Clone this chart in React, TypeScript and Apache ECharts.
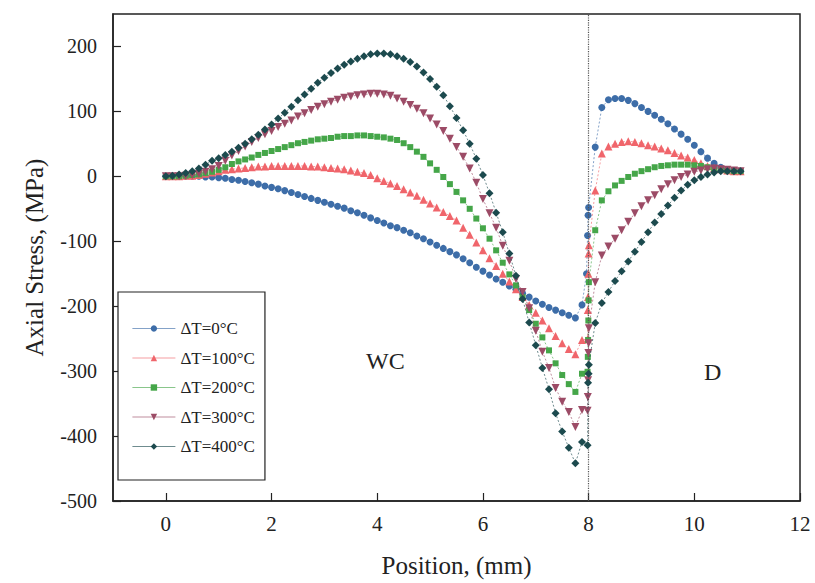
import React, { useEffect, useRef } from "react";
import * as echarts from "echarts";

const FONT = '"Liberation Serif", "Times New Roman", serif';

// x positions (mm) in WC region and D region
const xWC = [0, 0.125, 0.25, 0.375, 0.5, 0.625, 0.75, 0.875, 1, 1.125, 1.25, 1.375, 1.5, 1.625, 1.75, 1.875, 2, 2.125, 2.25, 2.375, 2.5, 2.625, 2.75, 2.875, 3, 3.125, 3.25, 3.375, 3.5, 3.625, 3.75, 3.875, 4, 4.125, 4.25, 4.375, 4.5, 4.625, 4.75, 4.875, 5, 5.125, 5.25, 5.375, 5.5, 5.625, 5.75, 5.875, 6, 6.125, 6.25, 6.375, 6.5, 6.625, 6.75, 6.875, 7, 7.125, 7.25, 7.375, 7.5, 7.625, 7.75, 7.875];
const xD = [8.125, 8.25, 8.375, 8.5, 8.625, 8.75, 8.875, 9, 9.125, 9.25, 9.375, 9.5, 9.625, 9.75, 9.875, 10, 10.125, 10.25, 10.375, 10.5, 10.625, 10.75, 10.875];

const xTicks = [0, 2, 4, 6, 8, 10, 12];
const yTicks = [-500, -400, -300, -200, -100, 0, 100, 200];

const names = ["ΔT=0°C", "ΔT=100°C", "ΔT=200°C", "ΔT=300°C", "ΔT=400°C"];

// ΔT = 0
const wc0 = [0, 0, 0, 0, 0, 0, -1, -1, -2, -3, -5, -6, -8, -10, -12, -15, -17, -19, -22, -25, -28, -31, -34, -37, -40, -43, -46, -49, -53, -56, -60, -64, -68, -72, -76, -79, -83, -87, -92, -96, -101, -106, -111, -116, -121, -127, -133, -140, -146, -152, -158, -163, -169, -174, -180, -186, -192, -197, -202, -206, -210, -214, -218, -198];
const if0x = [7.96, 7.98, 7.99, 8.0];
const if0y = [-150, -91, -60, -48];
const d0 = [45, 106, 118, 120, 120, 117, 112, 106, 100, 94, 88, 81, 73, 65, 57, 48, 38, 28, 20, 14, 10, 8, 8];

// ΔT = 100
const wc1 = [0, 0, 0, 1, 1, 2, 4, 6, 8, 10, 11, 12, 13, 14, 15, 15, 16, 16, 16, 16, 16, 16, 15, 15, 14, 13, 12, 11, 9, 7, 5, 2, -3, -7, -11, -15, -20, -25, -30, -36, -42, -48, -55, -61, -68, -79, -90, -102, -114, -126, -138, -150, -162, -174, -186, -198, -210, -222, -234, -246, -257, -266, -274, -252];
const if1x = [7.98, 7.985, 7.99, 7.995, 8.0, 8.005];
const if1y = [-251, -206, -186, -150, -119, -106];
const d1 = [-22, 35, 46, 50, 53, 54, 53, 51, 48, 46, 43, 40, 36, 32, 29, 25, 20, 16, 13, 11, 9, 8, 8];

// ΔT = 200
const wc2 = [0, 0, 0, 1, 2, 3, 5, 7, 10, 14, 19, 23, 26, 29, 33, 36, 39, 42, 45, 48, 51, 53, 55, 57, 58, 59, 61, 62, 62, 63, 63, 62, 61, 60, 58, 56, 51, 45, 38, 30, 20, 10, -1, -12, -24, -37, -50, -65, -80, -96, -114, -133, -151, -168, -186, -206, -227, -248, -268, -288, -306, -320, -332, -304];
const if2x = [7.98, 7.985, 7.99, 7.995, 8.0, 8.005];
const if2y = [-301, -278, -252, -222, -191, -163];
const d2 = [-83, -37, -23, -14, -7, -1, 4, 8, 11, 14, 16, 17, 18, 18, 18, 17, 16, 14, 12, 10, 9, 8, 8];

// ΔT = 300
const wc3 = [0, 0, 0, 1, 2, 4, 7, 11, 16, 24, 32, 39, 46, 53, 59, 65, 70, 76, 81, 86, 92, 97, 102, 107, 111, 115, 118, 121, 123, 125, 126, 127, 127, 126, 124, 120, 115, 110, 104, 97, 89, 80, 70, 58, 45, 30, 12, -10, -35, -57, -79, -107, -130, -158, -178, -203, -238, -270, -295, -326, -347, -363, -386, -360];
const if3x = [7.98, 7.985, 7.99, 7.995, 8.0, 8.005];
const if3y = [-361, -340, -314, -272, -257, -234];
const d3 = [-163, -122, -108, -96, -83, -70, -57, -46, -37, -29, -20, -12, -6, -1, 3, 7, 9, 11, 12, 11, 10, 9, 8];

// ΔT = 400
const wc4 = [0, 1, 3, 5, 8, 12, 18, 24, 28, 33, 38, 44, 50, 57, 64, 72, 80, 89, 98, 107, 117, 126, 135, 144, 152, 159, 166, 172, 177, 181, 185, 188, 189, 189, 188, 185, 181, 176, 169, 160, 150, 138, 125, 108, 90, 71, 50, 27, 2, -26, -56, -86, -119, -153, -189, -225, -260, -295, -328, -365, -393, -418, -442, -409];
const if4x = [7.98, 7.99, 8.0, 8.005];
const if4y = [-414, -318, -304, -290];
const d4 = [-226, -195, -178, -161, -146, -131, -116, -101, -86, -71, -58, -45, -33, -22, -13, -6, -1, 3, 6, 8, 8, 8, 8];

const colors = ["#3d6da8", "#f0656b", "#45a649", "#9c4b66", "#1c4a4e"];

function build(yWC: number[], ifx: number[], ify: number[], yD: number[]) {
  const pts: number[][] = [];
  xWC.forEach((x, i) => pts.push([x, yWC[i]]));
  ifx.forEach((x, i) => pts.push([x, ify[i]]));
  xD.forEach((x, i) => pts.push([x, yD[i]]));
  return pts;
}

export default function App() {
  const ref = useRef<HTMLDivElement>(null);
  useEffect(() => {
    const chart = echarts.init(ref.current!, null, { renderer: "svg" });
    const datasets = [
      build(wc0, if0x, if0y, d0),
      build(wc1, if1x, if1y, d1),
      build(wc2, if2x, if2y, d2),
      build(wc3, if3x, if3y, d3),
      build(wc4, if4x, if4y, d4),
    ];
    const symbols = ["circle", "triangle", "rect", "triangle", "diamond"];
    const sizes = [7, 8, 6, 8, 8];
    const rot = [0, 0, 0, 180, 0];
    const series: any[] = datasets.map((d, i) => ({
      name: names[i],
      type: "line",
      data: d,
      symbol: symbols[i],
      symbolSize: sizes[i],
      symbolRotate: rot[i],
      showAllSymbol: true,
      itemStyle: { color: colors[i] },
      lineStyle: { color: colors[i], width: 0.8, type: [2, 2], opacity: 0.8 },
      z: 2 + i,
    }));
    series[0].markLine = {
      silent: true,
      symbol: ["none", "none"],
      label: { show: false },
      lineStyle: { type: "dotted", color: "#555", width: 1.2 },
      data: [{ xAxis: 8 }],
    };
    chart.setOption({
      animation: false,
      backgroundColor: "#fff",
      textStyle: { fontFamily: FONT },
      grid: {
        left: 113,
        right: 15,
        top: 14,
        bottom: 82,
        show: true,
        borderColor: "#222",
        borderWidth: 1.5,
        backgroundColor: "transparent",
      },
      legend: {
        orient: "vertical",
        left: 118,
        top: 292,
        itemWidth: 43,
        itemHeight: 8,
        itemGap: 12.5,
        padding: [28, 10, 25, 14],
        borderColor: "#222",
        borderWidth: 1.2,
        backgroundColor: "#fff",
        lineStyle: { type: "solid", width: 0.8 },
        textStyle: { fontFamily: FONT, fontSize: 17, color: "#222" },
        data: names,
      },
      xAxis: {
        type: "value",
        min: -1,
        max: 12,
        name: "Position, (mm)",
        nameLocation: "middle",
        nameGap: 52,
        nameTextStyle: { fontFamily: FONT, fontSize: 25, color: "#222" },
        axisLine: { onZero: false, lineStyle: { color: "#222", width: 1.5 } },
        axisTick: { inside: true, length: 8, customValues: xTicks, lineStyle: { color: "#222", width: 1.2 } },
        axisLabel: { customValues: xTicks, fontFamily: FONT, fontSize: 21, color: "#222", margin: 12 },
        splitLine: { show: false },
      },
      yAxis: {
        type: "value",
        min: -500,
        max: 250,
        name: "Axial Stress, (MPa)",
        nameLocation: "middle",
        nameGap: 66,
        nameTextStyle: { fontFamily: FONT, fontSize: 25, color: "#222" },
        axisLine: { onZero: false, lineStyle: { color: "#222", width: 1.5 } },
        axisTick: { inside: true, length: 8, customValues: yTicks, lineStyle: { color: "#222", width: 1.2 } },
        axisLabel: { customValues: yTicks, fontFamily: FONT, fontSize: 20, color: "#222", margin: 16 },
        splitLine: { show: false },
      },
      graphic: [
        { type: "text", left: 366, top: 349, style: { text: "WC", font: `24px ${FONT}`, fill: "#222" } },
        { type: "text", left: 704, top: 360, style: { text: "D", font: `24px ${FONT}`, fill: "#222" } },
      ],
      series,
    });
    return () => chart.dispose();
  }, []);
  return (
    <div
      ref={ref}
      style={{ position: "fixed", left: 0, top: 0, width: 815, height: 583 }}
    />
  );
}
